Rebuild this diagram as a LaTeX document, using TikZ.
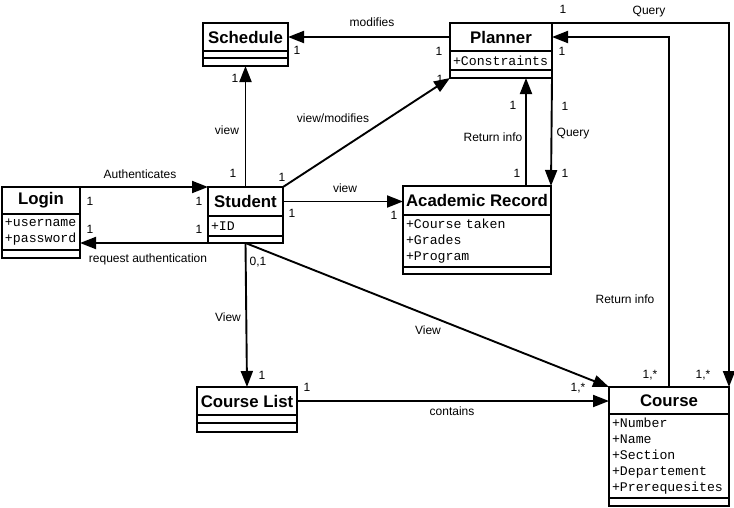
\documentclass[tikz,border=0pt]{standalone}
\usepackage{fontspec}
\setmainfont{Liberation Sans}
\setmonofont{Liberation Mono}
\usetikzlibrary{arrows.meta}

\begin{document}
\begin{tikzpicture}[x=1pt,y=-1pt,
    cname/.style={draw, line width=1.8pt, anchor=north west, outer sep=0pt, inner sep=1pt,
        minimum height=28pt, font=\fontsize{16.8}{18}\selectfont\bfseries},
    cattr/.style={draw, line width=1.8pt, anchor=north west, outer sep=0pt, inner xsep=3pt,
        inner ysep=0pt, align=left, font=\ttfamily\fontsize{13.2}{16}\selectfont},
    cempty/.style={draw, line width=1.8pt, anchor=north west, outer sep=0pt, inner sep=0pt,
        minimum height=8pt},
    assoc/.style={line width=1.9pt, -{Triangle[length=16pt,width=12pt]}},
    lbl/.style={font=\fontsize{12}{14}\selectfont, inner sep=0pt}
]
    \useasboundingbox (0,0) rectangle (734,507);

    % Clases
    \node[cname, minimum width=85pt] (sched) at (203,23) {Schedule};
    \node[cempty, minimum width=85pt, minimum height=7pt] (sched-attr) at (sched.south west) {};
    \node[cempty, minimum width=85pt] (sched-ops) at (sched-attr.south west) {};

    \node[cname, minimum width=102pt] (planner) at (450,23) {Planner};
    \node[cattr, text width=96pt, minimum height=19pt] (planner-attr) at (planner.south west) {+Constraints};
    \node[cempty, minimum width=102pt] (planner-ops) at (planner-attr.south west) {};

    \node[cname, minimum width=78pt, minimum height=27pt] (login) at (2,187) {Login};
    \node[cattr, text width=72pt, minimum height=36pt] (login-attr) at (login.south west) {+username\\+password};
    \node[cempty, minimum width=78pt] (login-ops) at (login-attr.south west) {};

    \node[cname, minimum width=75pt, minimum height=29pt] (student) at (208,187) {Student};
    \node[cattr, text width=69pt, minimum height=20pt] (student-attr) at (student.south west) {+ID};
    \node[cempty, minimum width=75pt, minimum height=7pt] (student-ops) at (student-attr.south west) {};

    \node[cname, minimum width=148pt, minimum height=29pt] (record) at (403,186) {Academic Record};
    \node[cattr, text width=142pt, minimum height=52pt] (record-attr) at (record.south west) {+Course taken\\+Grades\\+Program};
    \node[cempty, minimum width=148pt, minimum height=7pt] (record-ops) at (record-attr.south west) {};

    \node[cname, minimum width=100pt] (clist) at (197,387) {Course List};
    \node[cempty, minimum width=100pt] (clist-attr) at (clist.south west) {};
    \node[cempty, minimum width=100pt, minimum height=9pt] (clist-ops) at (clist-attr.south west) {};

    \node[cname, minimum width=120pt, minimum height=27pt] (course) at (609,387) {Course};
    \node[cattr, text width=114pt, minimum height=84pt] (course-attr) at (course.south west)
        {+Number\\+Name\\+Section\\+Departement\\+Prerequesites};
    \node[cempty, minimum width=120pt] (course-ops) at (course-attr.south west) {};

    % Asociaciones
    \draw[assoc] (login.north east) -- (student.north west);
    \draw[assoc] (student-ops.south west) -- (student-ops.south west -| login-attr.east);
    \draw[assoc] (student.north) -- (sched-ops.south);
    \draw[assoc] (student.north east) -- (planner-ops.south west);
    \draw[assoc] (student.east) -- (student.east -| record.west);
    \draw[assoc] (planner.west) -- (planner.west -| sched.east);
    \draw[assoc] (student-ops.south) -- (clist.north);
    \draw[assoc] (student-ops.south) -- (course.north west);
    \draw[assoc] (clist.east) -- (clist.east -| course.west);
    \draw[assoc] (course.north) |- (planner.east);
    \draw[assoc] (planner.north east) -| (course.north east);
    \draw[assoc] (planner-ops.south east) -- (record.north east);
    \coordinate (back) at ([xshift=-25pt]record.north east);
    \draw[assoc] (back) -- (back |- planner-ops.south);

    % Etiquetas
    \node[lbl] (auth-lbl) at (140,174) {Authenticates};
    \node[lbl] (req-lbl) at (148,259) {request authentication};
    \node[lbl] (auth-m1) at (90,201) {1};
    \node[lbl] (auth-m2) at (199,201) {1};
    \node[lbl] (req-m1) at (90,229) {1};
    \node[lbl] (req-m2) at (199,229) {1};

    \node[lbl] (vs-lbl) at (227,130) {view};
    \node[lbl] (vs-m1) at (233,173) {1};
    \node[lbl] (vs-m2) at (235,78) {1};

    \node[lbl] (vp-lbl) at (333,118) {view/modifies};
    \node[lbl] (vp-m1) at (282,177) {1};
    \node[lbl] (vp-m2) at (440,79) {1};

    \node[lbl] (vr-lbl) at (345,188) {view};
    \node[lbl] (vr-m1) at (292,213) {1};
    \node[lbl] (vr-m2) at (394,215) {1};

    \node[lbl] (mod-lbl) at (372,22) {modifies};
    \node[lbl] (mod-m1) at (297,50) {1};
    \node[lbl] (mod-m2) at (439,51) {1};

    \node[lbl] (vl-lbl) at (228,317) {View};
    \node[lbl] (vl-m1) at (258,262) {0,1};
    \node[lbl] (vl-m2) at (262,375) {1};

    \node[lbl] (vc-lbl) at (428,330) {View};
    \node[lbl] (vc-m2) at (578,388) {1,*};

    \node[lbl] (cont-lbl) at (452,411) {contains};
    \node[lbl] (cont-m1) at (307,387) {1};

    \node[lbl] (ri-lbl) at (625,299) {Return info};
    \node[lbl] (ri-m1) at (650,375) {1,*};
    \node[lbl] (ri-m2) at (562,51) {1};

    \node[lbl] (q-lbl) at (649,12) {Query};
    \node[lbl] (q-m1) at (563,9) {1};
    \node[lbl] (q-m2) at (703,375) {1,*};

    \node[lbl] (qr-lbl) at (573,134) {Query};
    \node[lbl] (qr-m1) at (565,106) {1};
    \node[lbl] (qr-m2) at (565,173) {1};

    \node[lbl] (rr-lbl) at (493,137) {Return info};
    \node[lbl] (rr-m1) at (513,105) {1};
    \node[lbl] (rr-m2) at (517,173) {1};
\end{tikzpicture}
\end{document}
